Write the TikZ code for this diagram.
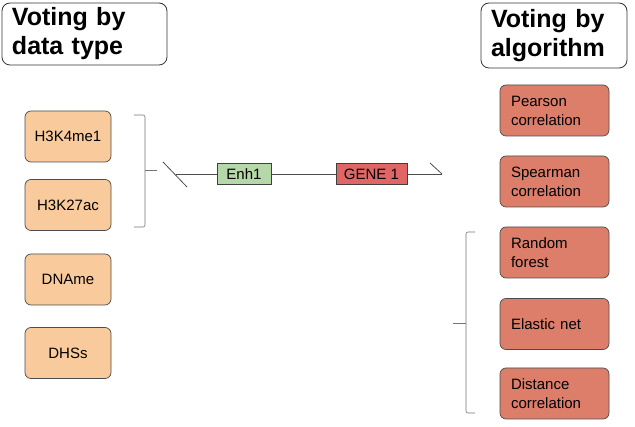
\documentclass[tikz,border=0pt]{standalone}
\usepackage{fontspec}
\setmainfont{Liberation Sans}
\definecolor{peach}{HTML}{F9CB9C}
\definecolor{salmon}{HTML}{DD7E6B}
\definecolor{enhgreen}{HTML}{B6D7A8}
\definecolor{genered}{HTML}{E06666}
\begin{document}
\begin{tikzpicture}[x=1pt,y=-1pt,
  titlebox/.style={draw=black!80, rounded corners=8pt, line width=0.8pt, align=left,
    inner xsep=10, font=\fontsize{25}{29}\selectfont\bfseries},
  datatype/.style={draw=black!70, fill=peach, rounded corners=6pt, line width=0.7pt,
    minimum width=86, minimum height=51, font=\fontsize{15}{18}\selectfont},
  algo/.style={draw=black!70, fill=salmon, rounded corners=6pt, line width=0.7pt,
    minimum width=109, minimum height=51, text width=87, inner xsep=11, align=left,
    font=\fontsize{15}{19}\selectfont},
  gbox/.style={draw=black!75, line width=0.7pt, minimum height=21, inner sep=0,
    font=\fontsize{15}{18}\selectfont},
  brace/.style={draw=black!55, line width=0.6pt, rounded corners=2pt},
  gline/.style={draw=black!70, line width=0.8pt}]
\useasboundingbox (0,0) rectangle (635,427);

\node[titlebox, minimum width=165, minimum height=62, text width=145] (t1) at (84.5,34) {Voting by\\data type};
\node[titlebox, minimum width=146, minimum height=65, text width=126] (t2) at (554,35.5) {Voting by\\algorithm};

\node[datatype] (h1) at (68,136.5) {H3K4me1};
\node[datatype] (h2) at (68,205) {H3K27ac};
\node[datatype] (dn) at (68,279.5) {DNAme};
\node[datatype] (dh) at (68,353) {DHSs};

\node[algo] (pe) at (554.5,110.5) {Pearson\\correlation};
\node[algo] (sp) at (554.5,181.5) {Spearman\\correlation};
\node[algo] (rf) at (554.5,252.5) {Random\\forest};
\node[algo] (en) at (554.5,324) {Elastic net};
\node[algo] (dc) at (554.5,393.5) {Distance\\correlation};

% gene locus
\node[gbox, fill=enhgreen, minimum width=54] (enh) at (244,174) {Enh1};
\node[gbox, fill=genered, minimum width=71] (gene) at (371.5,174) {GENE 1};
\coordinate (gl) at (176,174);
\coordinate (gr) at (442,174);
\coordinate (s1a) at (163,162);
\coordinate (s1b) at (187,187);
\coordinate (s2a) at (430,163);
\draw[gline] (gl) -- (enh);
\draw[gline] (enh) -- (gene);
\draw[gline] (gene) -- (gr);
\draw[gline] (s1a) -- (s1b);
\draw[gline] (s2a) -- (gr);

% left brace
\coordinate (lb1) at (134,115);
\coordinate (lb2) at (134,227);
\coordinate (lbm) at (145,170);
\coordinate (lbt) at (157,170);
\draw[brace] (lb1) -- (145,115) -- (145,227) -- (lb2);
\draw[brace] (lbm) -- (lbt);

% right brace
\coordinate (rb1) at (475,232);
\coordinate (rb2) at (475,413);
\coordinate (rbm) at (466,323);
\coordinate (rbt) at (453,323);
\draw[brace] (rb1) -- (466,232) -- (466,413) -- (rb2);
\draw[brace] (rbm) -- (rbt);
\end{tikzpicture}
\end{document}
